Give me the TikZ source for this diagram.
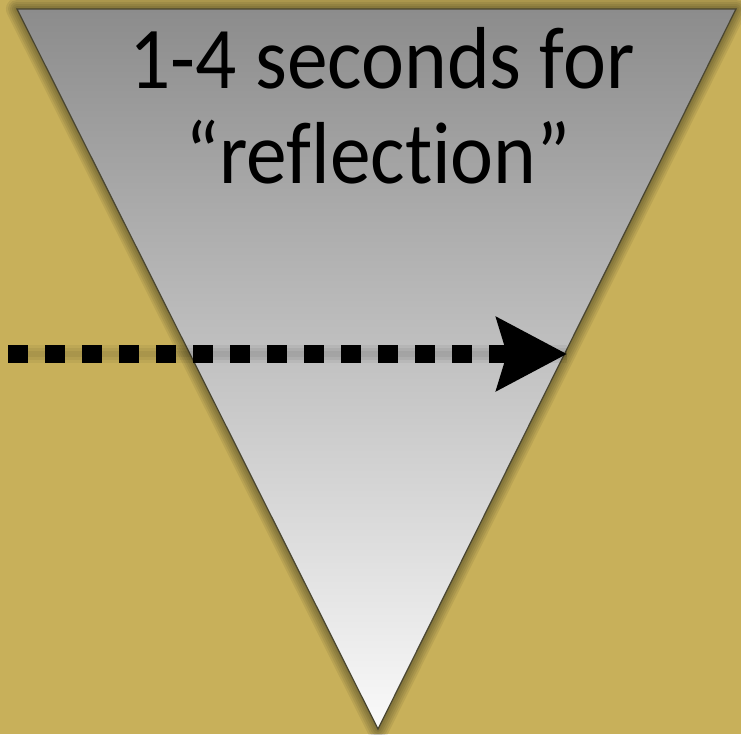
\documentclass[tikz,border=0pt]{standalone}
\usepackage{fontspec}
\setmainfont{Carlito}[Ligatures=NoCommon]
\usetikzlibrary{arrows.meta}
\definecolor{SlideGold}   {HTML}{C8B05A}
\definecolor{FunnelTop}   {HTML}{8C8C8C}
\definecolor{FunnelBottom}{HTML}{FAFAFA}
\definecolor{FunnelEdge}  {HTML}{4A4630}
\begin{document}
\begin{tikzpicture}[x=1pt,y=-1pt,
  funnel/.style={draw=FunnelEdge,line width=1.2pt,line join=miter,
    top color=FunnelTop,bottom color=FunnelBottom},
  funnelshadow/.style={draw=black,fill=black,opacity=0.07,line join=round},
  caption/.style={font=\fontsize{88}{95}\selectfont,text=black,anchor=base,
    inner sep=0pt,xscale=0.925},
  dotarrow/.style={line width=18pt,dash pattern=on 20pt off 17pt,
    -{Stealth[length=70pt,width=72pt,inset=10pt]}}]
  \fill[SlideGold] (0,0) rectangle (741,734);
  \useasboundingbox (0,0) rectangle (741,734);
  % Funnel corners
  \coordinate (topL) at (17,9);
  \coordinate (topR) at (736,9);
  \coordinate (apex) at (378,729);
  % Soft shadow
  \foreach \w in {22,18,...,2}
    \draw[funnelshadow,line width=\w pt,shift={(7,3)}] (topL) -- (topR) -- (apex) -- cycle;
  \shade[funnel] (topL) -- (topR) -- (apex) -- cycle;
  % Text
  \node[caption] (lineA) at (382,88) {1-4 seconds for};
  \node[caption] (lineB) at (378,183) {“reflection”};
  % Arrow
  \coordinate (start) at (8,354);
  \coordinate (tip) at (567,354);
  \foreach \w in {6,12,18}
    \draw[line width=\w pt,black,opacity=0.05,shift={(0,16)}] (start) -- (tip);
  \draw[dotarrow] (start) -- (tip);
\end{tikzpicture}
\end{document}
